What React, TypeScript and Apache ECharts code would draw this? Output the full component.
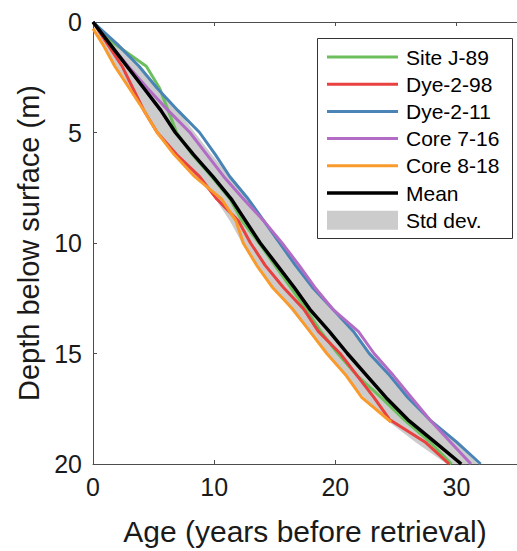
import React, { useEffect, useRef } from 'react';
import * as echarts from 'echarts';

// Depth grid (m) shared by most series
const depths = [0, 1, 2, 3, 4, 5, 6, 7, 8, 9, 10, 11, 12, 13, 14, 15, 16, 17, 18, 19, 20];
// Ages (years before retrieval) at each depth
const siteJ89 = [0, 1.8, 4.4, 5.5, 6.2, 6.9, 8.2, 9.8, 11.3, 12.3, 13.7, 15.0, 16.3, 17.6, 18.8, 20.2, 21.8, 23.8, 25.7, 27.8, 29.6];
const dye298 = [0, 1.2, 2.4, 3.3, 4.2, 5.3, 6.9, 8.8, 10.2, 12.0, 13.0, 14.2, 15.7, 17.4, 18.6, 20.4, 21.8, 23.2, 24.5, 27.4, 29.4];
const dye211 = [0, 2.0, 3.8, 5.3, 7.0, 8.8, 10.1, 11.3, 12.8, 14.1, 15.4, 16.7, 18.1, 19.8, 21.5, 22.8, 24.5, 26.0, 27.8, 30.0, 32.0];
const core716 = [0, 1.4, 2.9, 4.5, 6.2, 8.0, 9.4, 10.8, 12.4, 14.1, 15.6, 17.0, 18.3, 19.8, 21.9, 23.2, 24.8, 26.3, 27.8, 29.5, 31.2];
// Core 8-18 is shorter and starts slightly below the surface
const core818Depths = [0.3, 1, 2, 3, 4, 5, 6, 7, 8, 9, 10, 11, 12, 13, 14, 15, 16, 17, 18.1];
const core818 = [0, 0.8, 1.8, 3.0, 4.2, 5.3, 6.7, 8.4, 10.6, 11.8, 12.4, 13.5, 14.8, 16.5, 17.9, 19.3, 20.9, 22.2, 24.6];
const meanAge = [0, 1.4, 2.8, 4.2, 5.6, 6.8, 8.3, 9.9, 11.4, 12.6, 13.8, 15.2, 16.6, 17.9, 19.5, 21.0, 22.6, 24.2, 26.0, 28.2, 30.4];
// Std dev band edges
const bandLow = [0, 0.8, 1.8, 3.0, 4.2, 5.3, 6.9, 8.5, 10.1, 11.3, 12.3, 13.6, 14.9, 16.3, 17.8, 19.3, 20.8, 22.4, 24.2, 26.6, 29.2];
const bandHigh = [0, 2.0, 3.8, 5.4, 7.0, 8.4, 9.8, 11.3, 12.8, 14.1, 15.5, 16.9, 18.3, 19.8, 21.6, 23.0, 24.6, 26.2, 27.9, 29.9, 31.8];

const seriesNames = ['Site J-89', 'Dye-2-98', 'Dye-2-11', 'Core 7-16', 'Core 8-18', 'Mean', 'Std dev.'];
const seriesColors = ['#6cbf5c', '#e8413f', '#4a84b6', '#b26cc6', '#f99a2c', '#000000', '#cccccc'];

const xTicks = { min: 0, max: 35, interval: 10 };
const yTicks = { min: 0, max: 20, interval: 5 };

const FONT = '"Liberation Sans", Arial, Helvetica, sans-serif';
const AXIS = '#4d4d4d';
const TEXT = '#1a1a1a';

const pairs = (xs: number[], ys: number[]) => xs.map((x, i) => [x, ys[i]]);

export default function App() {
  const ref = useRef<HTMLDivElement>(null);
  useEffect(() => {
    const chart = echarts.init(ref.current!, null, { renderer: 'svg' });
    const lineSeries = (idx: number, ages: number[], ds: number[], width = 3) => ({
      name: seriesNames[idx],
      type: 'line',
      data: pairs(ages, ds),
      symbol: 'none',
      showSymbol: false,
      lineStyle: { color: seriesColors[idx], width },
      itemStyle: { color: seriesColors[idx] },
      z: 3,
    });

    // Legend drawn as graphic elements
    const legendLeft = 317;
    const legendTop = 38;
    const rowTop = 57;
    const rowStep = 27.2;
    const legendChildren: any[] = [
      {
        type: 'rect',
        shape: { x: legendLeft + 0.5, y: legendTop + 0.5, width: 195, height: 200 },
        style: { fill: '#ffffff', stroke: '#333333', lineWidth: 1 },
      },
    ];
    seriesNames.forEach((name, i) => {
      const cy = rowTop + i * rowStep;
      if (i === seriesNames.length - 1) {
        legendChildren.push({
          type: 'rect',
          shape: { x: 327, y: cy - 9.5, width: 71, height: 19 },
          style: { fill: seriesColors[i] },
        });
      } else {
        legendChildren.push({
          type: 'line',
          shape: { x1: 327, y1: cy, x2: 398, y2: cy },
          style: { stroke: seriesColors[i], lineWidth: i === 5 ? 3.5 : 3 },
        });
      }
      legendChildren.push({
        type: 'text',
        x: 406,
        y: cy,
        style: {
          text: name,
          fontFamily: FONT,
          fontSize: 21,
          fill: '#000000',
          verticalAlign: 'middle',
          align: 'left',
        },
      });
    });

    chart.setOption({
      animation: false,
      backgroundColor: '#ffffff',
      grid: { left: 93, top: 22, width: 434, height: 446, containLabel: false },
      graphic: [{ type: 'group', z: 100, children: legendChildren }],
      xAxis: [
        {
          type: 'value',
          position: 'bottom',
          ...xTicks,
          name: 'Age (years before retrieval)',
          nameLocation: 'middle',
          nameGap: 52,
          nameTextStyle: { fontFamily: FONT, fontSize: 30, color: TEXT },
          axisLine: { show: true, onZero: false, lineStyle: { color: AXIS, width: 1 } },
          axisTick: { show: true, inside: true, length: 4, lineStyle: { color: AXIS } },
          axisLabel: { fontFamily: FONT, fontSize: 25, color: TEXT, margin: 10, showMaxLabel: false },
          splitLine: { show: false },
        },
        {
          type: 'value',
          position: 'top',
          ...xTicks,
          axisLine: { show: true, onZero: false, lineStyle: { color: AXIS, width: 1 } },
          axisTick: { show: true, inside: true, length: 4, lineStyle: { color: AXIS } },
          axisLabel: { show: false },
          splitLine: { show: false },
        },
      ],
      yAxis: {
        type: 'value',
        inverse: true,
        ...yTicks,
        name: 'Depth below surface (m)',
        nameLocation: 'middle',
        nameGap: 48,
        nameRotate: 90,
        nameTextStyle: { fontFamily: FONT, fontSize: 29, color: TEXT },
        axisLine: { show: true, onZero: false, lineStyle: { color: AXIS, width: 1 } },
        axisTick: { show: true, inside: true, length: 4, lineStyle: { color: AXIS } },
        axisLabel: { fontFamily: FONT, fontSize: 25, color: TEXT, margin: 11 },
        splitLine: { show: false },
      },
      series: [
        {
          name: seriesNames[6],
          type: 'custom',
          xAxisIndex: 0,
          yAxisIndex: 0,
          data: [[0, 0]],
          itemStyle: { color: seriesColors[6] },
          z: 2,
          renderItem: (_params: any, api: any) => {
            const pts: number[][] = [];
            for (let i = 0; i < depths.length; i++) pts.push(api.coord([bandLow[i], depths[i]]));
            for (let i = depths.length - 1; i >= 0; i--) pts.push(api.coord([bandHigh[i], depths[i]]));
            return { type: 'polygon', shape: { points: pts }, style: { fill: seriesColors[6] } };
          },
        },
        lineSeries(0, siteJ89, depths),
        lineSeries(1, dye298, depths),
        lineSeries(2, dye211, depths),
        lineSeries(3, core716, depths),
        lineSeries(4, core818, core818Depths),
        lineSeries(5, meanAge, depths, 3.5),
      ],
    });
    return () => chart.dispose();
  }, []);
  return <div ref={ref} style={{ position: 'absolute', left: 0, top: 0, width: 517, height: 551 }} />;
}
